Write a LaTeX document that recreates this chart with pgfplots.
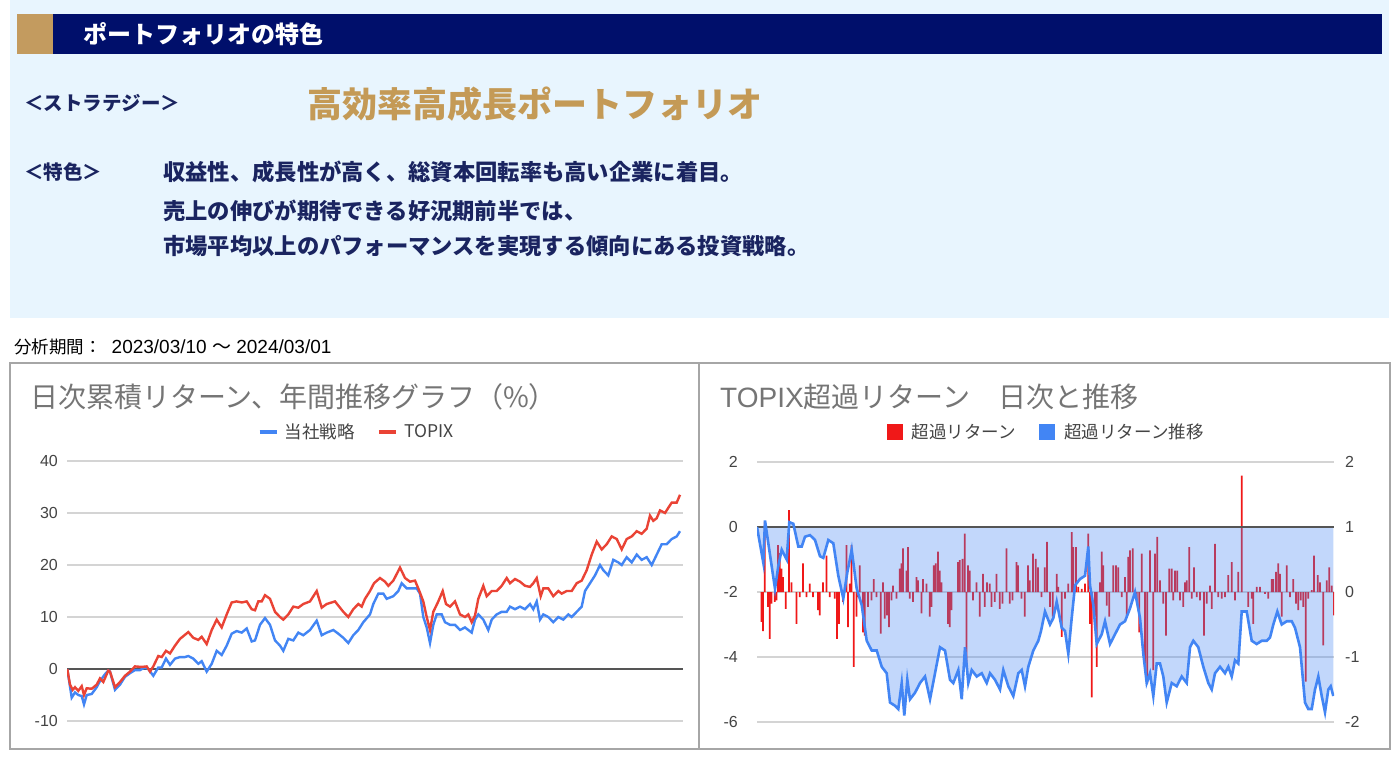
\documentclass[border=0pt]{standalone}
\usepackage{pgfplots}
\pgfplotsset{compat=1.18}
\usepackage{fontspec}
\setmainfont{Liberation Sans}
\newfontfamily\jp{Noto Sans CJK JP}
\definecolor{bgblue}{HTML}{E8F5FE}
\definecolor{navy}{HTML}{000F6B}
\definecolor{gold}{HTML}{C39B5F}
\definecolor{goldtxt}{HTML}{C49A56}
\definecolor{txtnavy}{HTML}{1A2460}
\definecolor{gblue}{HTML}{4285F4}
\definecolor{gred}{HTML}{EA4335}
\definecolor{bred}{HTML}{F01818}
\definecolor{titlegray}{HTML}{757575}
\definecolor{ticklab}{HTML}{444444}
\definecolor{gridc}{HTML}{D4D4D4}
\definecolor{panelb}{HTML}{A6A6A6}
\definecolor{zeroline}{HTML}{555555}
\newcommand{\fs}[1]{\fontsize{#1}{#1}\selectfont}

\pgfplotsset{
  chartbase/.style={
    scale only axis,
    axis line style={draw=none},
    tick style={draw=none},
    xtick=\empty,
    /pgf/number format/assume math mode=true,
    yticklabel style={font=\fs{16}, text=ticklab, inner sep=0pt},
    grid style={gridc, line width=1.3pt},
  }
}

\begin{document}
\begin{tikzpicture}[x=1pt,y=1pt]
\path[fill=white] (0,0) rectangle (1399,-761);
\coordinate (LA) at (67,-721);
\coordinate (RA) at (757,-722);
% top panel
\fill[bgblue] (10,0) rectangle (1389,-318);
\fill[navy] (17,-14) rectangle (1382,-54);
\fill[gold] (17,-14) rectangle (53,-54);
\node[anchor=west, inner sep=0, text=white] at (83,-34) {\fs{24}\jp\bfseries ポートフォリオの特色};
\node[anchor=west, inner sep=0, text=txtnavy] at (24,-103) {\fs{19.5}\jp\bfseries ＜ストラテジー＞};
\node[anchor=west, inner sep=0, text=goldtxt] at (307,-104) {\fs{35}\jp\bfseries 高効率高成長ポートフォリオ};
\node[anchor=west, inner sep=0, text=txtnavy] at (24,-172) {\fs{19.5}\jp\bfseries ＜特色＞};
\node[anchor=west, inner sep=0, text=txtnavy] at (163,-172) {\fs{22.3}\jp\bfseries 収益性、成長性が高く、総資本回転率も高い企業に着目。};
\node[anchor=west, inner sep=0, text=txtnavy] at (163,-211) {\fs{22.3}\jp\bfseries 売上の伸びが期待できる好況期前半では、};
\node[anchor=west, inner sep=0, text=txtnavy] at (163,-246) {\fs{22.3}\jp\bfseries 市場平均以上のパフォーマンスを実現する傾向にある投資戦略。};
\node[anchor=west, inner sep=0, text=black] at (14,-347) {\fs{17.5}{\jp 分析期間：}\hspace{10pt}{\fs{19}2023/03/10 {\jp 〜} 2024/03/01}};
% panels
\draw[panelb, line width=1.3pt] (10,-363) rectangle (699,-749);
\draw[panelb, line width=1.3pt] (699,-363) rectangle (1390,-749);
\node[anchor=west, inner sep=0, text=titlegray] at (30,-397) {\fs{28}\jp 日次累積リターン、年間推移グラフ（\%）};
\node[anchor=west, inner sep=0, text=titlegray] at (720,-397) {\fs{28}TOPIX{\jp 超過リターン　日次と推移}};

% ---------- left chart ----------
\begin{axis}[chartbase,
  at={(LA)}, anchor=south west, width=616pt, height=260pt,
  xmin=0, xmax=616, ymin=-10, ymax=40, ytick={-10,0,...,40},
  ymajorgrids,
  yticklabel style={xshift=-9pt},
  legend style={at={(0.470,1.1115)}, anchor=center, draw=none, fill=none,
    font=\fs{17.5}\jp, text=ticklab, legend columns=2,
    /tikz/every even column/.append style={column sep=20pt}},
  legend image code/.code={\draw[#1, line width=4pt] (0pt,0pt) -- (17pt,0pt); \path (22pt,0pt);},
]
\draw[zeroline, line width=1.5pt] (axis cs:0,0) -- (axis cs:616,0);
\addplot[gblue, line width=2.4pt] coordinates {
(0.3,0)(4.7,-5.5)(8,-4.5)(11.3,-5)(14.7,-5.2)(17,-6.8)(19.7,-5)(24.7,-4.8)(29.7,-3.5)(33,-2.3)(38,-1)(41.3,-0.3)(43,-0.5)(48,-4)(53,-3)(58,-1.5)(63,-0.8)(68,-0.2)(73,-0.2)(78,0.3)(81.3,0)(86.3,-1.3)(91.3,0.3)(94.7,0.3)(99,2)(103,0.8)(108,2)(113,2.3)(118,2.3)(121.3,2.5)(126.3,2)(131.3,1)(134.7,1.5)(139.7,-0.5)(144.7,1)(149.7,3.5)(154.7,2.7)(159.7,4.5)(164.7,6.8)(169.7,7.3)(174.7,7)(179.7,7.8)(184.7,5.3)(188,5.5)(193,8.5)(198,9.8)(203,8.5)(208,5.5)(213,4.5)(216.3,3.5)(221.3,5.8)(226.3,5.5)(231.3,7)(236.3,6.5)(243,7.5)(249.7,9.3)(254.7,6.5)(259.7,7)(266.3,7.5)(271.3,6.8)(276.3,6)(281.3,5)(286.3,6.5)(291.3,7.5)(296.3,9)(303,10.5)(306.3,12.5)(311.3,14.5)(316.3,14.5)(319.7,13.5)(326.3,14)(331.3,15)(334.7,16.5)(339.7,15.5)(344.7,15.5)(349.7,15.5)(353,14.5)(356.3,10)(359.7,8)(363,5)(366.3,8.5)(369.7,10.5)(374.7,10.5)(378,9)(383,8.5)(388,8.5)(393,7.5)(398,8)(401.3,7.5)(404.7,7)(408,9.5)(411.3,10.5)(416.3,9.5)(421.3,7.5)(424.7,9.5)(429.7,10.5)(434.7,11)(439.7,11)(443,12)(448,11.5)(453,12)(458,11.5)(463,12.5)(466.3,11.5)(469.7,13)(473,9.5)(476.3,10.5)(481.3,10)(486.3,9)(491.3,10)(496.3,9.5)(501.3,10.5)(504.7,10)(509.7,11)(514.7,12)(518,15)(523,16.5)(528,18)(533,20)(536.3,19)(541.3,18)(546.3,21)(551.3,20.5)(554.7,20)(559.7,21.5)(564.7,20.5)(569.7,22)(574.7,21)(579.7,21.5)(584.7,20)(589.7,22)(594.7,24)(599.7,24)(604.7,25)(609.7,25.5)(613,26.5)
};
\addlegendentry{当社戦略}
\addplot[gred, line width=2.4pt] coordinates {
(0.3,0)(3,-3)(5.7,-4)(8,-3.5)(11.3,-4.2)(14.7,-3.3)(17,-5)(19.7,-3.7)(24.7,-3.8)(29.7,-3)(33,-1.8)(36.3,-2.5)(41.3,-0.3)(43,-0.5)(48,-3.5)(53,-2.5)(58,-1.3)(63,-0.5)(68,0.5)(74.7,0.4)(79.7,0.5)(83,-0.5)(86.3,0.5)(91.3,2.5)(94.7,2.3)(99,3.5)(103,3)(108,4.5)(113,5.8)(121.3,7.1)(126.3,6)(131.3,5.6)(134.7,6.2)(139.7,4.8)(144.7,7.5)(149.7,9.5)(154.7,8)(159.7,10.5)(164.7,12.8)(169.7,13)(174.7,12.8)(179.7,13)(184.7,11.5)(188,11.3)(191.3,13)(194.7,13)(198,14.2)(203,13.5)(208,11)(213,10)(216.3,9.5)(221.3,10.5)(226.3,12)(231.3,11.8)(236.3,12.5)(243,13)(249.7,15)(254.7,11.8)(259.7,12.5)(264.7,12.8)(268,13)(271.3,12.2)(276.3,11)(281.3,10)(286.3,11.5)(291.3,12.5)(294.7,12)(298,13.5)(303,15)(307,16.5)(313,17.5)(318,16.8)(321.3,16)(326.3,17)(333,19.5)(338,17.5)(343,16.8)(348,17)(351.3,15.5)(356.3,13)(359.7,10)(363,7.5)(366.3,11)(371.3,13)(375.7,15)(379,12.5)(383,12)(388,13)(393,10.5)(398,10)(401.3,10.5)(404.7,9)(408,10.3)(411.3,13.5)(416.3,16)(419.7,14)(424.7,15)(429.7,15)(434.7,16)(439.7,17.5)(443,16.5)(448,17.3)(453,16.8)(458,16)(463,15.8)(466.3,16.5)(469.7,17.5)(473.7,14)(476.3,15.5)(481.3,15.5)(486.3,14)(491.3,15)(494.7,14.5)(499.7,15)(504.7,15)(509.7,16.5)(514.7,17)(519.7,19)(524.7,22)(529.7,24.5)(534.7,23)(539.7,24)(544.7,25.5)(549.7,25)(554.7,23)(559.7,25)(564.7,25.5)(569.7,26.5)(574.7,26)(579.7,27)(583,29.5)(586.3,28.5)(589.7,29)(593,30.5)(598,30)(601.3,31)(604.7,32)(609.7,32)(613,33.5)
};
\addlegendentry{TOPIX}
\end{axis}

% ---------- right chart: bars on right axis ----------
\begin{axis}[chartbase,
  at={(RA)}, anchor=south west, width=577pt, height=260pt,
  xmin=0, xmax=577, ymin=-2, ymax=2, ytick={-2,-1,...,2},
  ymajorgrids,
  yticklabel pos=right,
  yticklabel style={anchor=west, xshift=11pt},
]
\addplot[ybar, bar width=1.7pt, fill=bred, draw=none, forget plot] coordinates {
(4.4,-0.46)(6,-0.6)(7.7,1.08)(11,-0.23)(12.7,-0.72)(14.4,-0.18)(17.7,-0.15)(19.4,-0.13)(21,0.72)(22.7,0.6)(24.4,0.36)(26,0.23)(28.7,-0.26)(32,1.26)(34.4,0.15)(39.4,-0.49)(42.7,-0.08)(46,0.44)(49.4,-0.08)(52.7,0.13)(56,-0.08)(61,-0.28)(62.7,-0.36)(66,0.15)(69.4,0.56)(72.7,-0.08)(77.7,-0.1)(80,-0.72)(82,-0.49)(86,-0.15)(89.4,0.72)(91,-0.54)(92.7,0.13)(94.4,0.72)(96.7,-1.15)(99.4,-0.38)(101,-0.08)(102.7,0.41)(106,-0.62)(107.7,-0.67)(111,-0.23)(114.4,-0.13)(116.7,0.2)(119.4,-0.08)(123.7,-0.64)(126,0.15)(127.7,-0.41)(130,-0.36)(132,-0.54)(134.4,-0.13)(136,0.1)(139.4,-0.1)(142.7,0.36)(144.4,0.44)(146,0.67)(149.4,0.33)(151,0.69)(152.7,-0.1)(156,-0.15)(159.4,0.23)(161,0.18)(164.4,-0.33)(166,0.2)(169.4,0.13)(172.7,-0.38)(174.4,-0.23)(176.7,0.41)(178.7,0.44)(181,0.62)(182.7,0.33)(184.4,0.15)(191,-0.49)(192.7,-0.54)(194.4,-0.28)(201,0.46)(202.7,0.49)(205.4,0.51)(207.7,0.9)(209.4,-1.15)(211,0.41)(212.7,0.33)(216,-0.13)(219.4,0.15)(222.7,-0.38)(226,0.28)(227.7,-0.23)(230,0.15)(232.7,0.13)(234.4,-0.23)(237.7,-0.15)(239.4,0.28)(242.7,-0.26)(245.4,-0.18)(249.4,0.67)(252.7,-0.18)(255.4,-0.13)(259.4,0.46)(261,0.41)(264.4,-0.1)(267.7,-0.38)(271,0.41)(272.7,0.18)(276,0.59)(278.7,0.51)(281,0.38)(284.4,-0.08)(287.7,0.38)(290,0.77)(293,-0.23)(295.7,-0.38)(299.7,0.28)(301.3,0.08)(304.7,-0.69)(308,-0.1)(311.3,0.13)(314.7,0.92)(316.3,0.69)(319,0.69)(321.3,0.08)(324.7,0.05)(328,0.13)(331.3,0.9)(333,-0.49)(334.7,-1.62)(338,-0.38)(339.7,-1.15)(343,0.15)(344.7,0.62)(346.3,0.41)(349.7,-0.21)(352.3,-0.38)(356.3,0.41)(359,0.41)(361.3,0.38)(364.7,-0.08)(368,0.23)(369.7,-0.38)(371.3,0.54)(373,0.64)(375.7,0.67)(379.7,-0.13)(382.3,-0.62)(384.7,0.59)(388,-1.1)(390.3,-1.41)(393,0.64)(396.3,-1.2)(398,0.59)(400.3,0.85)(403,0.18)(406.3,-0.18)(409,-0.67)(412.3,0.36)(414.7,0.36)(416.3,-0.13)(418,0.33)(420.3,0.33)(423,-0.13)(426.3,-0.23)(428,0.15)(429.7,0.18)(432.3,0.69)(434.7,-0.1)(437,0.38)(439.7,-0.08)(443,-0.13)(447,-0.67)(449.7,-0.18)(453,0.1)(454.7,-0.26)(458,0.74)(461.3,-0.08)(464.7,-0.1)(468,-0.08)(471.3,0.26)(474.7,0.46)(478,-0.13)(481.3,0.31)(484.7,1.79)(491.3,-0.23)(494.7,-0.1)(496.3,-0.49)(499.7,0.08)(503,0.08)(508,-0.03)(511.3,-0.1)(514.7,0.2)(516.3,0.2)(519,0.31)(521.3,0.44)(523,0.28)(524.7,-0.38)(529.7,0.41)(533,-0.08)(536.3,0.2)(539,-0.18)(541.3,-0.28)(543.7,-0.13)(546.3,-0.23)(548.7,-1.38)(551.3,-0.1)(554.7,0.03)(557,0.56)(560.7,0.26)(563,0.15)(566.3,-0.82)(569.7,0.18)(572.3,0.38)(574.7,0.1)(577,-0.36)
};
\end{axis}

% ---------- right chart: cumulative on left axis ----------
\begin{axis}[chartbase,
  at={(RA)}, anchor=south west, width=577pt, height=260pt,
  xmin=0, xmax=577, ymin=-6, ymax=2, ytick={-6,-4,...,2},
  yticklabel style={xshift=-19pt},
  legend style={at={(0.501,1.115)}, anchor=center, draw=none, fill=none,
    font=\fs{17.5}\jp, text=ticklab, legend columns=2,
    /tikz/every even column/.append style={column sep=21pt}},
]
\addlegendimage{legend image code/.code={\fill[bred] (0pt,-7.5pt) rectangle (15pt,7.5pt); \path (23pt,0pt);}}
\addlegendentry{超過リターン}
\addlegendimage{legend image code/.code={\fill[gblue] (0pt,-7.5pt) rectangle (15pt,7.5pt); \path (23pt,0pt);}}
\addlegendentry{超過リターン推移}
\addplot[fill=gblue, fill opacity=0.32, draw=none, forget plot] coordinates {
(0,0)(6.3,-1.1)(8,0.2)(11.3,-0.5)(18,-1.9)(21.3,-1.2)(24.7,-0.7)(29.7,-1)(32.3,0.15)(36.3,0.1)(41.3,-0.6)(44.7,-0.6)(48,-0.3)(53,-0.25)(58,-0.4)(63,-0.9)(66.3,-0.95)(71.3,-0.4)(76.3,-0.5)(81.3,-1.5)(86.3,-2.2)(90.3,-1.4)(94.7,-0.7)(99.7,-1.9)(104.7,-2.4)(109.7,-3.5)(114.7,-3.8)(119.7,-3.8)(124.7,-4.3)(129.7,-4.5)(133,-5.4)(138,-5.5)(141.3,-5.6)(144.7,-4.8)(147.3,-5.8)(150.3,-4.7)(153,-5.3)(158,-5.1)(163,-4.8)(168,-4.6)(173,-5.3)(178,-4.5)(183,-3.7)(188,-3.8)(193,-4.7)(196.3,-4.8)(201.3,-4.4)(204.7,-5.3)(208,-3.7)(211.3,-4.8)(214.7,-4.4)(219.7,-4.6)(224.7,-4.5)(229.7,-4.8)(233,-4.5)(238,-4.7)(243,-5)(246.3,-4.4)(251.3,-4.9)(256.3,-5.2)(261.3,-4.5)(264.7,-4.4)(268,-4.9)(271.3,-4.3)(276.3,-3.8)(281.3,-3.5)(284,-3.2)(288,-2.6)(293,-3)(296.3,-2.8)(299.7,-2.3)(304.7,-3.1)(308,-3.2)(311.3,-3.9)(314.7,-2.8)(318,-1.8)(323,-1.6)(328,-1.5)(331.3,-0.6)(333,-1.8)(336.3,-2.4)(339.7,-3.6)(344.7,-3.3)(348,-2.9)(353,-3.6)(358,-3.3)(363,-3)(368,-2.9)(373,-2.5)(378,-2)(383,-2.8)(386.3,-3.9)(389.7,-4.8)(393,-4.5)(396.3,-5.2)(399.7,-4.2)(403,-4.2)(406.3,-4.6)(409.7,-5.4)(414.7,-4.8)(419.7,-4.9)(424.7,-4.6)(429.7,-4.8)(433,-3.7)(436.3,-3.5)(441.3,-3.7)(446.3,-4.3)(451.3,-4.8)(454.7,-5)(458,-4.5)(463,-4.3)(468,-4.5)(471.3,-4.3)(474.7,-4.6)(478,-4.1)(481.3,-4.2)(484.7,-2.6)(489.7,-2.6)(494.7,-3.5)(499.7,-3.6)(504.7,-3.5)(509.7,-3.5)(513,-3.4)(516.3,-3)(520.3,-2.6)(524.7,-3)(529.7,-2.9)(534.7,-2.9)(538,-3.1)(543,-3.7)(548,-5.4)(551.3,-5.6)(554.7,-5.6)(558,-5)(561.3,-4.6)(564.7,-5.2)(568,-5.7)(571.3,-5)(573.7,-4.9)(576.3,-5.2)
} \closedcycle;
\draw[zeroline, line width=1.5pt] (axis cs:0,0) -- (axis cs:577,0);
\addplot[gblue, line width=2.6pt, forget plot] coordinates {
(0,0)(6.3,-1.1)(8,0.2)(11.3,-0.5)(18,-1.9)(21.3,-1.2)(24.7,-0.7)(29.7,-1)(32.3,0.15)(36.3,0.1)(41.3,-0.6)(44.7,-0.6)(48,-0.3)(53,-0.25)(58,-0.4)(63,-0.9)(66.3,-0.95)(71.3,-0.4)(76.3,-0.5)(81.3,-1.5)(86.3,-2.2)(90.3,-1.4)(94.7,-0.7)(99.7,-1.9)(104.7,-2.4)(109.7,-3.5)(114.7,-3.8)(119.7,-3.8)(124.7,-4.3)(129.7,-4.5)(133,-5.4)(138,-5.5)(141.3,-5.6)(144.7,-4.8)(147.3,-5.8)(150.3,-4.7)(153,-5.3)(158,-5.1)(163,-4.8)(168,-4.6)(173,-5.3)(178,-4.5)(183,-3.7)(188,-3.8)(193,-4.7)(196.3,-4.8)(201.3,-4.4)(204.7,-5.3)(208,-3.7)(211.3,-4.8)(214.7,-4.4)(219.7,-4.6)(224.7,-4.5)(229.7,-4.8)(233,-4.5)(238,-4.7)(243,-5)(246.3,-4.4)(251.3,-4.9)(256.3,-5.2)(261.3,-4.5)(264.7,-4.4)(268,-4.9)(271.3,-4.3)(276.3,-3.8)(281.3,-3.5)(284,-3.2)(288,-2.6)(293,-3)(296.3,-2.8)(299.7,-2.3)(304.7,-3.1)(308,-3.2)(311.3,-3.9)(314.7,-2.8)(318,-1.8)(323,-1.6)(328,-1.5)(331.3,-0.6)(333,-1.8)(336.3,-2.4)(339.7,-3.6)(344.7,-3.3)(348,-2.9)(353,-3.6)(358,-3.3)(363,-3)(368,-2.9)(373,-2.5)(378,-2)(383,-2.8)(386.3,-3.9)(389.7,-4.8)(393,-4.5)(396.3,-5.2)(399.7,-4.2)(403,-4.2)(406.3,-4.6)(409.7,-5.4)(414.7,-4.8)(419.7,-4.9)(424.7,-4.6)(429.7,-4.8)(433,-3.7)(436.3,-3.5)(441.3,-3.7)(446.3,-4.3)(451.3,-4.8)(454.7,-5)(458,-4.5)(463,-4.3)(468,-4.5)(471.3,-4.3)(474.7,-4.6)(478,-4.1)(481.3,-4.2)(484.7,-2.6)(489.7,-2.6)(494.7,-3.5)(499.7,-3.6)(504.7,-3.5)(509.7,-3.5)(513,-3.4)(516.3,-3)(520.3,-2.6)(524.7,-3)(529.7,-2.9)(534.7,-2.9)(538,-3.1)(543,-3.7)(548,-5.4)(551.3,-5.6)(554.7,-5.6)(558,-5)(561.3,-4.6)(564.7,-5.2)(568,-5.7)(571.3,-5)(573.7,-4.9)(576.3,-5.2)
};
\end{axis}
\end{tikzpicture}
\end{document}
